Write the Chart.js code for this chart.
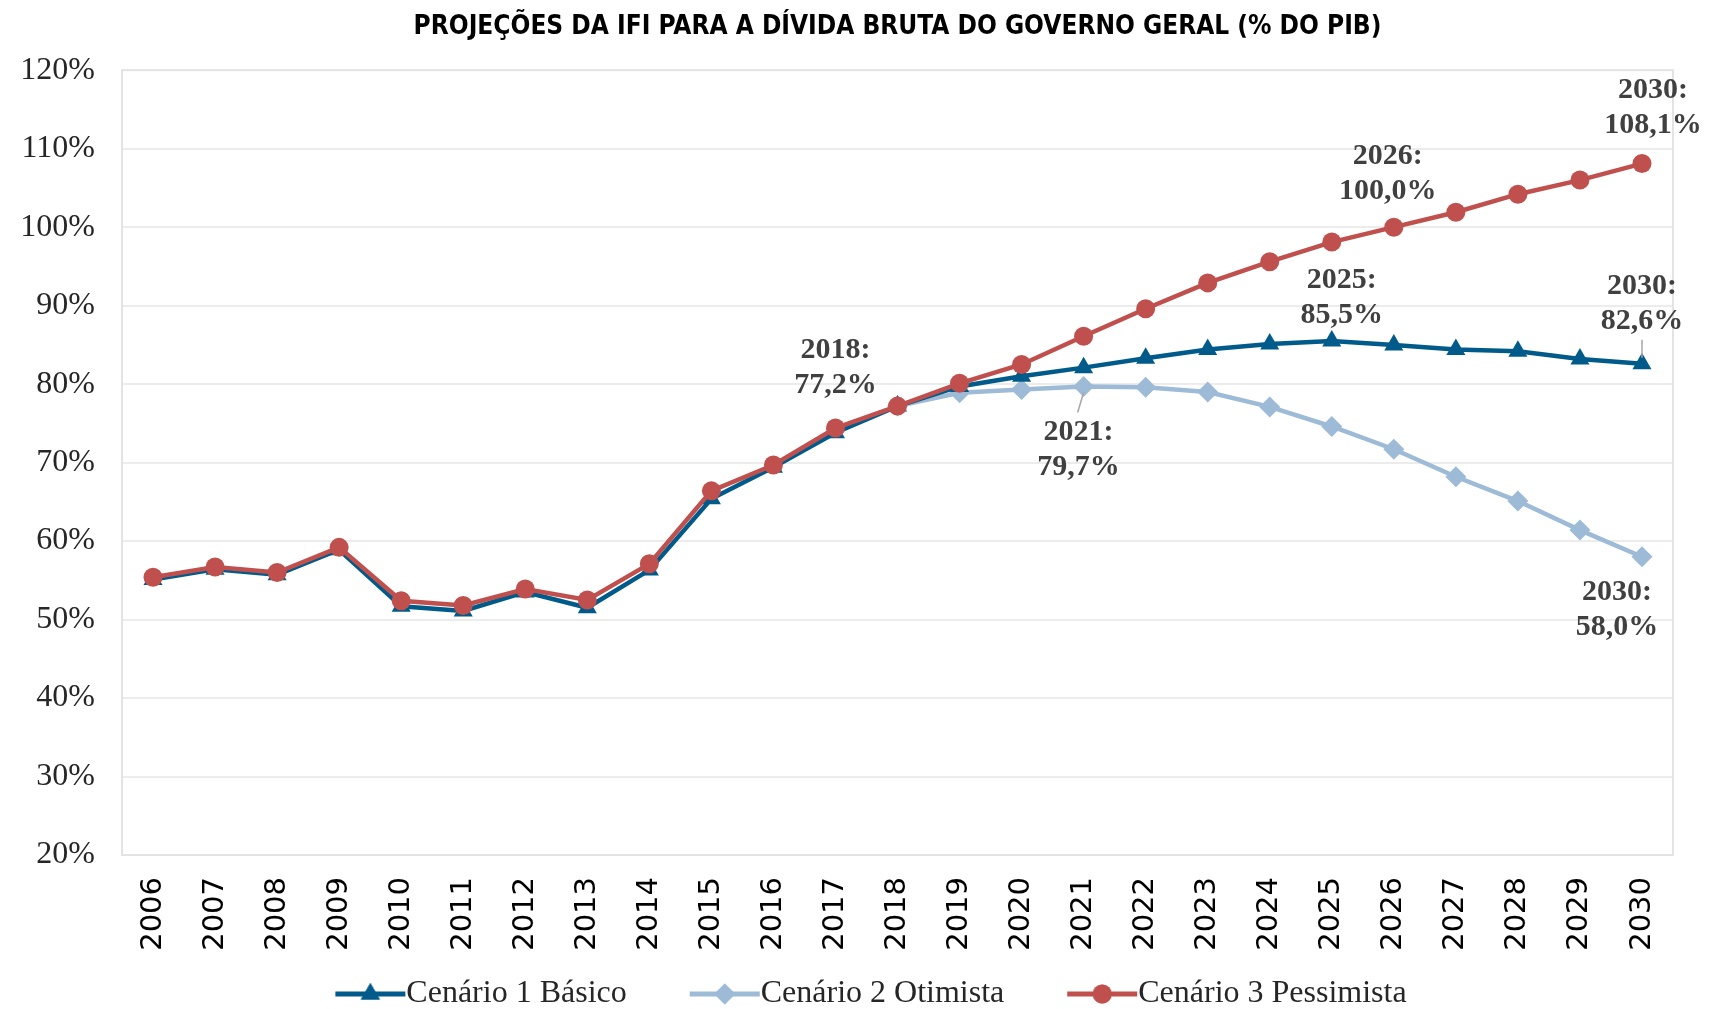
<!DOCTYPE html>
<html lang="pt-BR">
<head>
<meta charset="utf-8">
<title>Projeções da IFI para a dívida bruta</title>
<script src="https://cdn.jsdelivr.net/npm/chart.js@4.4.1/dist/chart.umd.min.js"></script>
<style>
    html, body { margin: 0; padding: 0; background: #ffffff; }
    #chart-wrap { width: 1709px; height: 1009px; }
</style>
</head>
<body>
<div id="chart-wrap"><canvas id="debt-chart" width="1709" height="1009"></canvas></div>
<script>
// Dívida bruta do governo geral (% do PIB) - cenários da IFI

const years = ['2006', '2007', '2008', '2009', '2010', '2011', '2012', '2013', '2014', '2015', '2016', '2017', '2018',
    '2019', '2020', '2021', '2022', '2023', '2024', '2025', '2026', '2027', '2028', '2029', '2030'];

const basico = [55.1, 56.4, 55.7, 58.9, 51.7, 51.1, 53.5, 51.5, 56.3, 65.4, 69.4, 73.8, 77.2,
    79.7, 81.0, 82.1, 83.3, 84.4, 85.1, 85.5, 85.0, 84.4, 84.2, 83.2, 82.6];

const otimista = [null, null, null, null, null, null, null, null, null, null, null, null, 77.2,
    78.9, 79.3, 79.7, 79.6, 79.0, 77.1, 74.6, 71.7, 68.2, 65.1, 61.4, 58.0];

const pessimista = [55.4, 56.7, 56.0, 59.2, 52.4, 51.8, 53.9, 52.5, 57.1, 66.4, 69.7, 74.4, 77.2,
    80.1, 82.5, 86.1, 89.6, 92.9, 95.6, 98.1, 100.0, 101.9, 104.2, 106.0, 108.1];

const yTicks = [20, 30, 40, 50, 60, 70, 80, 90, 100, 110, 120];

const seriesNames = ['Cenário 1 Básico', 'Cenário 2 Otimista', 'Cenário 3 Pessimista'];

// callouts: which series, which year, text
const callouts = [
    { series: 0, year: '2018', lines: ['2018:', '77,2%'] },
    { series: 1, year: '2021', lines: ['2021:', '79,7%'] },
    { series: 0, year: '2025', lines: ['2025:', '85,5%'] },
    { series: 2, year: '2026', lines: ['2026:', '100,0%'] },
    { series: 2, year: '2030', lines: ['2030:', '108,1%'] },
    { series: 0, year: '2030', lines: ['2030:', '82,6%'] },
    { series: 1, year: '2030', lines: ['2030:', '58,0%'] }
];

// label placement (pixels from the point), same order as callouts
const calloutOffsets = [
    { dx: -62, dy: -56, leader: false },
    { dx: -5, dy: 46, leader: true },
    { dx: 10, dy: -61, leader: false },
    { dx: -6, dy: -71, leader: false },
    { dx: 11, dy: -73, leader: false },
    { dx: 0, dy: -77, leader: true },
    { dx: -25, dy: 35, leader: false }
];

const colors = ['#005b8a', '#9dbbd6', '#c0504d'];
const markers = ['triangle', 'rectRot', 'circle'];
const markerSizes = [11, 10.5, 9.5];
const serifFont = "'Liberation Serif', 'DejaVu Serif', serif";
const textColor = '#262626';

// legend swatch geometry
const swatchBox = 116;
const swatchLine = 70;
const legendFontSize = 32;

/**
 * Legend swatch: short line with the marker in the middle.
 * The canvas is wider than the legend box so the line reaches the text,
 * the blank left part works as the gap between items.
 */
function makeSwatch(color, marker, size) {
    const c = document.createElement('canvas');
    const extra = legendFontSize / 2;
    c.width = swatchBox + 2 * extra;
    c.height = 26;
    const ctx = c.getContext('2d');
    const x1 = c.width - 1;
    const x0 = x1 - swatchLine;
    ctx.strokeStyle = color;
    ctx.lineWidth = 5;
    ctx.beginPath();
    ctx.moveTo(x0, 13);
    ctx.lineTo(x1, 13);
    ctx.stroke();
    ctx.fillStyle = color;
    Chart.helpers.drawPoint(ctx, { pointStyle: marker, radius: size, rotation: 0, borderWidth: 0 }, (x0 + x1) / 2, 13);
    ctx.fill();
    return c;
}

const plotFrame = {
    id: 'plotFrame',
    beforeDatasetsDraw(chart) {
        const { ctx, chartArea } = chart;
        ctx.save();
        ctx.strokeStyle = '#e3e3e3';
        ctx.lineWidth = 2;
        ctx.strokeRect(chartArea.left, chartArea.top, chartArea.right - chartArea.left, chartArea.bottom - chartArea.top);
        ctx.restore();
    }
};

const calloutLabels = {
    id: 'calloutLabels',
    afterDatasetsDraw(chart) {
        const { ctx } = chart;
        const x = chart.scales.x;
        const y = chart.scales.y;
        const data = [basico, otimista, pessimista];
        ctx.save();
        ctx.font = 'bold 30px ' + serifFont;
        ctx.fillStyle = '#404040';
        ctx.textAlign = 'center';
        ctx.textBaseline = 'middle';
        callouts.forEach((c, i) => {
            const off = calloutOffsets[i];
            const idx = years.indexOf(c.year);
            const px = x.getPixelForValue(idx);
            const py = y.getPixelForValue(data[c.series][idx]);
            const lineH = 35;
            c.lines.forEach((t, k) => {
                ctx.fillText(t, px + off.dx, py + off.dy + k * lineH);
            });
            if (off.leader) {
                ctx.strokeStyle = '#a6a6a6';
                ctx.lineWidth = 1.5;
                ctx.beginPath();
                if (off.dy > 0) {
                    ctx.moveTo(px, py + 6);
                    ctx.lineTo(px - 6, py + off.dy - 20);
                } else {
                    ctx.moveTo(px, py - 6);
                    ctx.lineTo(px, py + off.dy + lineH + 18);
                }
                ctx.stroke();
            }
        });
        ctx.restore();
    }
};

const seriesData = [basico, otimista, pessimista];
const drawOrder = [1, 2, 0];

const datasets = seriesData.map((values, i) => ({
    label: seriesNames[i],
    data: values,
    borderColor: colors[i],
    backgroundColor: colors[i],
    borderWidth: 4.5,
    pointStyle: markers[i],
    pointRadius: markerSizes[i],
    pointBorderWidth: 0,
    pointBackgroundColor: colors[i],
    tension: 0,
    order: drawOrder[i],
    spanGaps: false
}));

const ctx = document.getElementById('debt-chart');
new Chart(ctx, {
    type: 'line',
    data: { labels: years, datasets: datasets },
    options: {
        responsive: false,
        animation: false,
        layout: { padding: { left: 8, right: 36, top: 0, bottom: -11 } },
        scales: {
            x: {
                offset: true,
                grid: { display: false, drawTicks: false },
                border: { display: true, color: '#d9d9d9', width: 2 },
                ticks: {
                    minRotation: 90,
                    maxRotation: 90,
                    padding: 22,
                    color: '#000000',
                    font: { family: "'DejaVu Sans', sans-serif", size: 29 }
                },
                afterFit(scale) { scale.height = 121; }
            },
            y: {
                min: 20,
                max: 120,
                afterBuildTicks(scale) {
                    scale.ticks = yTicks.map(v => ({ value: v }));
                },
                grid: { color: '#ececec', lineWidth: 2, drawTicks: false },
                border: { display: false },
                ticks: {
                    padding: 27,
                    color: textColor,
                    font: { family: serifFont, size: 32 },
                    callback: function (value) {
                        return value + '%';
                    }
                },
                afterFit(scale) { scale.width = 114; }
            }
        },
        plugins: {
            title: {
                display: true,
                fullSize: false,
                text: 'PROJEÇÕES DA IFI PARA A DÍVIDA BRUTA DO GOVERNO GERAL (% DO PIB)',
                color: '#000000',
                font: { family: "'Liberation Sans Narrow', 'DejaVu Sans Condensed', 'Open Sans', sans-serif", size: 26, weight: 'bold' },
                padding: { top: 12, bottom: 27 }
            },
            legend: {
                position: 'bottom',
                labels: {
                    usePointStyle: true,
                    pointStyleWidth: swatchBox,
                    color: textColor,
                    padding: 2,
                    font: { family: serifFont, size: legendFontSize, lineHeight: 1 },
                    generateLabels(chart) {
                        return seriesNames.map((name, i) => ({
                            text: name,
                            datasetIndex: i,
                            fontColor: textColor,
                            pointStyle: makeSwatch(colors[i], markers[i], markerSizes[i]),
                            lineWidth: 0,
                            strokeStyle: 'transparent',
                            fillStyle: colors[i],
                            hidden: false
                        }));
                    }
                }
            },
            tooltip: { enabled: false }
        }
    },
    plugins: [plotFrame, calloutLabels]
});
</script>
</body>
</html>
